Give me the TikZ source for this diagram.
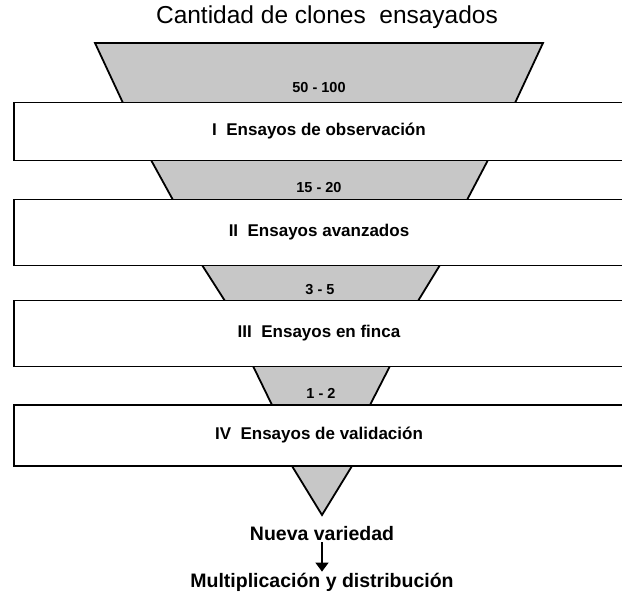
\documentclass[tikz,border=0pt]{standalone}
\usepackage{fontspec}
\setmainfont{Liberation Sans}
\usetikzlibrary{arrows.meta}
\begin{document}
\begin{tikzpicture}[x=1pt,y=-1pt,
  funnel/.style={fill=black!22},
  edge/.style={draw=black,line width=1.8pt,line join=miter},
  stage/.style={draw=black,line width=1.3pt,fill=white,rectangle,minimum width=620pt,inner sep=0pt,font=\bfseries\fontsize{17}{20}\selectfont},
  count/.style={font=\bfseries\fontsize{14.5}{17}\selectfont,inner sep=0pt},
  final/.style={font=\bfseries\fontsize{19.5}{23}\selectfont,inner sep=1pt}]
\useasboundingbox (0,0) rectangle (622,593);
% funnel segments
\fill[funnel] (95,43) -- (543,43) -- (515,103) -- (123,103) -- cycle;
\draw[edge] (123,103) -- (95,43) -- (543,43) -- (515,103);
\fill[funnel] (151,160) -- (488,160) -- (467,200) -- (173,200) -- cycle;
\draw[edge] (151,160) -- (173,200) (488,160) -- (467,200);
\fill[funnel] (202,265) -- (440,265) -- (418,301) -- (225,301) -- cycle;
\draw[edge] (202,265) -- (225,301) (440,265) -- (418,301);
\fill[funnel] (253,366) -- (390,366) -- (370,405) -- (272,405) -- cycle;
\draw[edge] (253,366) -- (272,405) (390,366) -- (370,405);
\fill[funnel] (292,466) -- (352,466) -- (322,515) -- cycle;
\draw[edge] (292,466) -- (322,515) -- (352,466);
% title
\node[font=\fontsize{24.5}{29}\selectfont,inner sep=0pt] (title) at (327,17) {Cantidad de clones\ \ ensayados};
% counts
\node[count] (c1) at (319,88) {50 - 100};
\node[count] (c2) at (319,188) {15 - 20};
\node[count] (c3) at (320,290) {3 - 5};
\node[count] (c4) at (321,393) {1 - 2};
% stage boxes
\node[stage,minimum height=58pt] (s1) at (324,131.5) {\hspace*{-10pt}I\ \ Ensayos de observación};
\node[stage,minimum height=66pt] (s2) at (324,232.5) {\hspace*{-10pt}II\ \ Ensayos avanzados};
\node[stage,minimum height=66pt] (s3) at (324,333.5) {\hspace*{-10pt}III\ \ Ensayos en finca};
\node[stage,minimum height=61pt] (s4) at (324,435.5) {\hspace*{-10pt}IV\ \ Ensayos de validación};
% outcome
\node[final] (nv) at (322,534) {Nueva variedad};
\node[final] (md) at (322,582) {Multiplicación y distribución};
\draw[line width=1.3pt,-{Triangle[length=9pt,width=13pt]}] (nv.south) -- (md.north);
\end{tikzpicture}
\end{document}
